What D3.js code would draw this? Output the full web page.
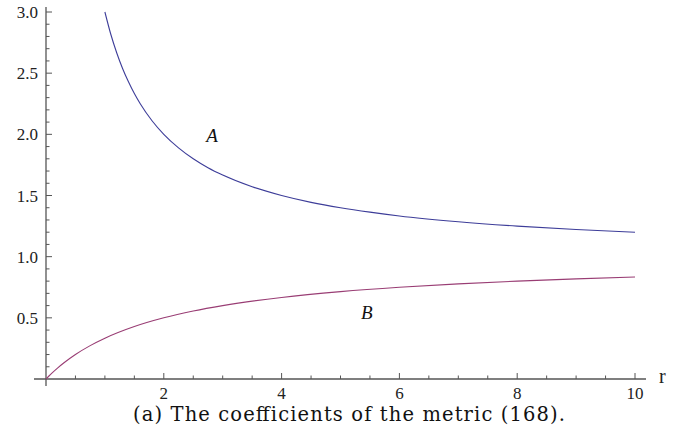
<!DOCTYPE html>
<html><head><meta charset="utf-8">
<script src="https://cdn.jsdelivr.net/npm/d3@7"></script>
<style>body{margin:0;background:#fff}</style>
</head><body><svg id="c" width="686" height="443"></svg>
<script>
const rA = [1, 1.1, 1.2, 1.3, 1.4, 1.5, 1.6, 1.8, 2, 2.25, 2.5, 2.75, 3, 3.5, 4, 4.5, 5, 5.5, 6, 7, 8, 9, 10];
const valuesA = [3.0, 2.818, 2.667, 2.538, 2.429, 2.333, 2.25, 2.111, 2.0, 1.889, 1.8, 1.727, 1.667, 1.571, 1.5, 1.444, 1.4, 1.364, 1.333, 1.286, 1.25, 1.222, 1.2];
const rB = [0, 0.05, 0.1, 0.2, 0.3, 0.5, 0.75, 1, 1.5, 2, 2.5, 3, 4, 5, 6, 7, 8, 9, 10];
const valuesB = [0, 0.0244, 0.0476, 0.0909, 0.1304, 0.2, 0.2727, 0.3333, 0.4286, 0.5, 0.5556, 0.6, 0.6667, 0.7143, 0.75, 0.7778, 0.8, 0.8182, 0.8333];
const xTicks = [2, 4, 6, 8, 10];
const yTicks = [0.5, 1.0, 1.5, 2.0, 2.5, 3.0];
const seriesLabels = ["A", "B"];
const caption = "(a) The coefficients of the metric (168).";

const svg = d3.select("#c");
const x = d3.scaleLinear().domain([0, 10]).range([46, 635]);
const y = d3.scaleLinear().domain([0, 3]).range([379, 12]);
const axisColor = "#555";
const font = "'Liberation Serif', 'DejaVu Serif', serif";
const capFont = "'DejaVu Serif', 'Liberation Serif', serif";

// x axis line
svg.append("line").attr("x1", 34).attr("x2", 646).attr("y1", y(0)).attr("y2", y(0))
  .attr("stroke", axisColor).attr("stroke-width", 1.3);
// y axis line
svg.append("line").attr("x1", x(0)).attr("x2", x(0)).attr("y1", 7).attr("y2", 386)
  .attr("stroke", axisColor).attr("stroke-width", 1.3);

// x ticks
const xMinor = d3.range(0.5, 10.01, 0.5);
svg.append("g").selectAll("line").data(xMinor).join("line")
  .attr("x1", d => x(d)).attr("x2", d => x(d))
  .attr("y1", y(0)).attr("y2", d => y(0) - (Math.abs(d % 2) < 1e-6 ? 6 : 3.5))
  .attr("stroke", axisColor).attr("stroke-width", 1);
svg.append("g").selectAll("text").data(xTicks).join("text")
  .attr("x", d => x(d)).attr("y", 399).attr("text-anchor", "middle")
  .attr("font-family", font).attr("font-size", 17).attr("fill", "#222")
  .text(d => d);
svg.append("text").attr("x", 659).attr("y", 383).attr("font-family", font)
  .attr("font-size", 20).attr("fill", "#222").text("r");

// y ticks
const yMinor = d3.range(1, 31).map(i => i / 10);
svg.append("g").selectAll("line").data(yMinor).join("line")
  .attr("y1", d => y(d)).attr("y2", d => y(d))
  .attr("x1", x(0)).attr("x2", (d, i) => x(0) + ((i + 1) % 5 === 0 ? 6 : 3.5))
  .attr("stroke", axisColor).attr("stroke-width", 1);
svg.append("g").selectAll("text").data(yTicks).join("text")
  .attr("x", 38).attr("y", d => y(d) + 6).attr("text-anchor", "end")
  .attr("font-family", font).attr("font-size", 17).attr("fill", "#222")
  .text(d => d.toFixed(1));

// curves
const lineGen = d3.line().x(d => x(d[0])).y(d => y(d[1])).curve(d3.curveMonotoneX);
svg.append("path").datum(rA.map((r, i) => [r, valuesA[i]]))
  .attr("d", lineGen).attr("fill", "none").attr("stroke", "#3d3d99").attr("stroke-width", 1.1);
svg.append("path").datum(rB.map((r, i) => [r, valuesB[i]]))
  .attr("d", lineGen).attr("fill", "none").attr("stroke", "#993d74").attr("stroke-width", 1.1);

// series labels
svg.append("text").attr("x", x(2.72)).attr("y", y(1.94)).attr("font-family", font)
  .attr("font-style", "italic").attr("font-size", 19).attr("fill", "#111").text(seriesLabels[0]);
svg.append("text").attr("x", x(5.35)).attr("y", y(0.49)).attr("font-family", font)
  .attr("font-style", "italic").attr("font-size", 19).attr("fill", "#111").text(seriesLabels[1]);

// caption
svg.append("text").attr("x", 349).attr("y", 421).attr("text-anchor", "middle")
  .attr("font-family", capFont).attr("font-size", 19.5).attr("fill", "#111")
  .attr("textLength", 432).attr("lengthAdjust", "spacing").text(caption);
</script></body></html>
